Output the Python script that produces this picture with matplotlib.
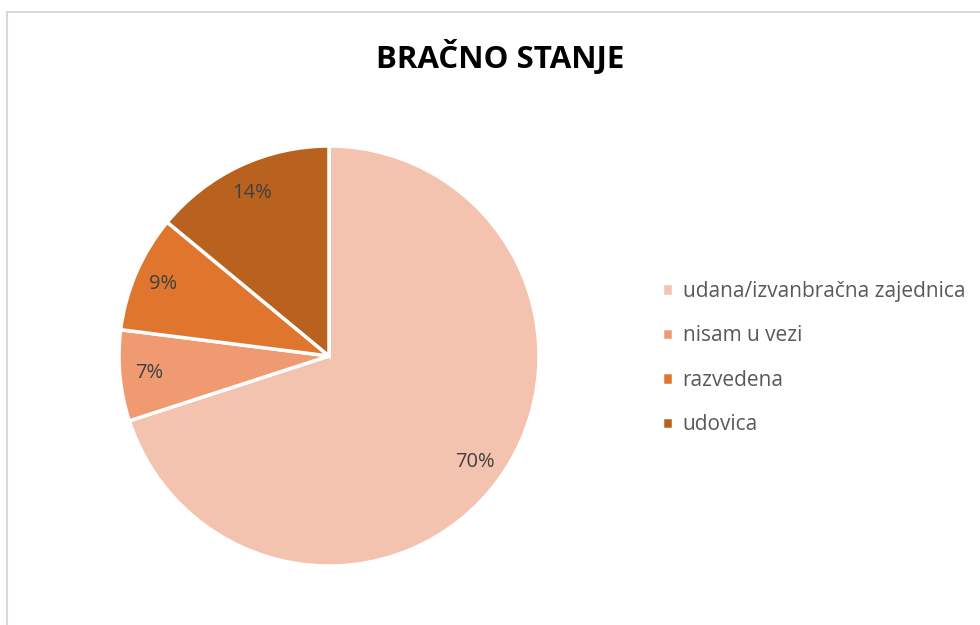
# Pie chart of marital status (bračno stanje)

import matplotlib.pyplot as plt
from matplotlib.patches import Rectangle

categories = ['udana/izvanbračna zajednica', 'nisam u vezi', 'razvedena', 'udovica']
shares = [70, 7, 9, 14]
colors = ['#F4C3B0', '#F09A72', '#E0762E', '#B9611F']

plt.rcParams['font.family'] = ['Open Sans', 'DejaVu Sans']

fig = plt.figure(figsize=(9.8, 6.25), dpi=100)

# light grey chart border
fig.patches.append(Rectangle((7 / 980, -0.1), 1.2, (625 - 12) / 625 + 0.1,
                             transform=fig.transFigure, fill=False,
                             edgecolor='#D9D9D9', linewidth=1.5))

ax = fig.add_axes([119 / 980, 59 / 625, 420 / 980, 420 / 625])
wedges, texts, autotexts = ax.pie(shares, colors=colors, startangle=90, counterclock=False,
                                  autopct='%d%%', pctdistance=0.86,
                                  wedgeprops={'edgecolor': 'white', 'linewidth': 2.5},
                                  textprops={'color': '#404040', 'fontsize': 14.5})
ax.set_xlim(-1, 1)
ax.set_ylim(-1, 1)
ax.set_aspect('equal')

fig.text(500 / 980, 1 - 57 / 625, 'BRAČNO STANJE', ha='center', va='center',
         fontsize=22.5, fontweight='bold', color='black')

fig.legend(wedges, categories, loc='center left', bbox_to_anchor=(643 / 980, 1 - 358 / 625),
           frameon=False, fontsize=15, labelcolor='#595959',
           handlelength=0.55, handleheight=0.55, handletextpad=0.45, labelspacing=1.13)

fig.savefig('out.png', dpi=100)
